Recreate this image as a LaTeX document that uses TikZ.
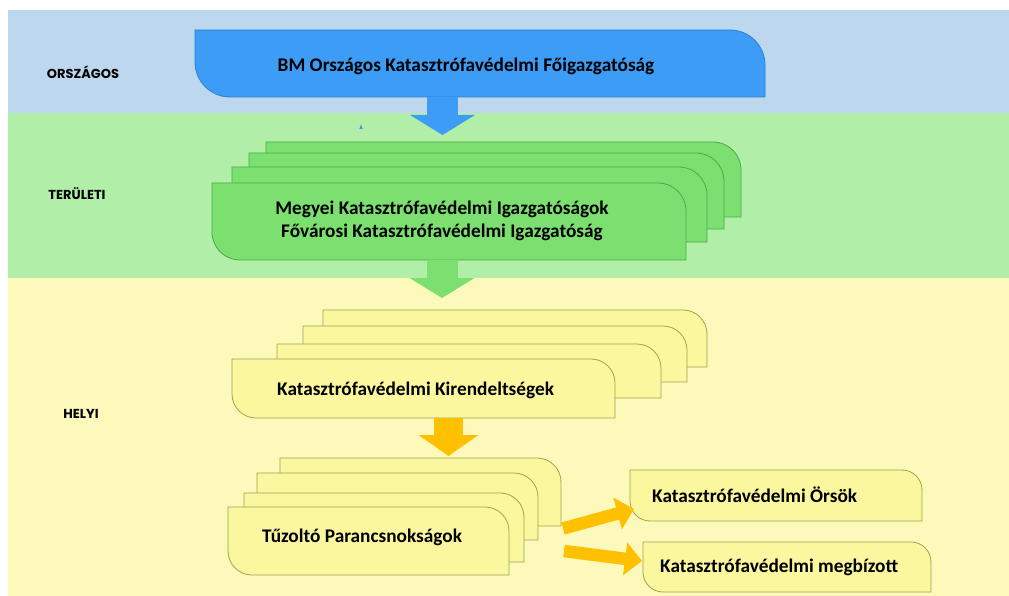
\documentclass[tikz,border=0pt]{standalone}
\usepackage{fontspec}
\setmainfont{Carlito}
\newfontfamily\lblfont{Poppins}
\usetikzlibrary{arrows.meta}
\definecolor{bandblue}{HTML}{BDD7EE}
\definecolor{bandgreen}{HTML}{B1EEA7}
\definecolor{bandyellow}{HTML}{FCF9BA}
\definecolor{boxblue}{HTML}{3C9CF6}
\definecolor{boxblueline}{HTML}{2F7FCF}
\definecolor{boxgreen}{HTML}{7BE070}
\definecolor{boxgreenline}{HTML}{4FA848}
\definecolor{boxyellow}{HTML}{FAF79F}
\definecolor{boxyellowline}{HTML}{9AA64E}
\definecolor{arrorange}{HTML}{FFC000}
% #1 style, (#2,#3) top-left, (#4,#5) bottom-right, #6 radius
\newcommand\tabshape[6]{%
  \path[#1] (#2,#3) -- (#4-#6,#3)
    .. controls (#4-0.4477*#6,#3) and (#4,#3+0.4477*#6) .. (#4,#3+#6)
    -- (#4,#5) -- (#2+#6,#5)
    .. controls (#2+0.4477*#6,#5) and (#2,#5-0.4477*#6) .. (#2,#5-#6)
    -- cycle;}
\tikzset{
  bluebox/.style={fill=boxblue,draw=boxblueline,line width=0.8pt},
  greenbox/.style={fill=boxgreen,draw=boxgreenline,line width=0.8pt},
  yellowbox/.style={fill=boxyellow,draw=boxyellowline,line width=0.8pt},
  boxtext/.style={font=\fontsize{19.3}{23}\selectfont\bfseries,text=black,inner sep=0pt},
  leveltext/.style={font=\lblfont\bfseries\fontsize{13}{15}\selectfont,text=black,inner sep=0pt},
  downarrow/.style={line width=31pt,-{Triangle[width=64pt,length=20pt]}},
  orangearrow/.style={arrorange,line width=12.5pt,-{Triangle[width=32pt,length=17pt]}}
}
\begin{document}
\begin{tikzpicture}[x=1pt,y=-1pt]
\useasboundingbox (0,0) rectangle (1009,596);
% bands
\fill[bandblue] (8,10) rectangle (1009,113);
\fill[bandgreen] (8,113) rectangle (1009,278);
\fill[bandyellow] (8,278) rectangle (1009,596);
% level labels
\node[leveltext] (orszlbl) at (83,72) {ORSZÁGOS};
\node[leveltext] (terlbl) at (77,194) {TERÜLETI};
\node[leveltext] (helyilbl) at (81,414) {HELYI};
% blue box
\tabshape{bluebox}{195}{30}{765}{97}{35}
\node[boxtext] (bm) at (466,66) {BM Országos Katasztrófavédelmi Főigazgatóság};
% green stack
\tabshape{greenbox}{266}{142}{741}{217}{28}
\tabshape{greenbox}{249}{153}{724}{229}{28}
\tabshape{greenbox}{232}{167}{707}{242}{28}
\tabshape{greenbox}{212}{183}{686}{260}{28}
\node[boxtext,align=center] (megyei) at (442,221) {Megyei Katasztrófavédelmi Igazgatóságok\\Fővárosi Katasztrófavédelmi Igazgatóság};
% yellow stack 1
\tabshape{yellowbox}{323}{310}{707}{367}{24}
\tabshape{yellowbox}{303}{326}{687}{382}{24}
\tabshape{yellowbox}{277}{344}{661}{398}{24}
\tabshape{yellowbox}{232}{359}{615}{418}{24}
\node[boxtext,anchor=west] (kir) at (277,390) {Katasztrófavédelmi Kirendeltségek};
% yellow stack 2
\tabshape{yellowbox}{280}{458}{561}{526}{24}
\tabshape{yellowbox}{257}{473}{538}{540}{24}
\tabshape{yellowbox}{244}{493}{524}{562}{24}
\tabshape{yellowbox}{228}{507}{509}{575}{24}
\node[boxtext,anchor=west] (tuz) at (262,537) {Tűzoltó Parancsnokságok};
% right boxes
\tabshape{yellowbox}{630}{470}{922}{521}{20}
\node[boxtext,anchor=west] (ors) at (652,495) {Katasztrófavédelmi Örsök};
\tabshape{yellowbox}{643}{542}{931}{592}{20}
\node[boxtext,anchor=west] (megb) at (660,567) {Katasztrófavédelmi megbízott};
% small mark
\fill[boxblue] (359.3,129) -- (362.7,129) -- (361,124.5) -- cycle;
% arrows
\coordinate (a1s) at (442.5,97);
\coordinate (a1e) at (442.5,135);
\coordinate (a2s) at (442,260);
\coordinate (a2e) at (442,298);
\coordinate (a3s) at (448.5,418);
\coordinate (a3e) at (448.5,456);
\coordinate (a4s) at (563,528.5);
\coordinate (a4e) at (634,509);
\coordinate (a5s) at (564,551);
\coordinate (a5e) at (642,561);
\draw[downarrow,boxblue] (a1s) -- (a1e);
\draw[downarrow,boxgreen] (a2s) -- (a2e);
\draw[arrorange,line width=29pt,-{Triangle[width=59pt,length=21pt]}] (a3s) -- (a3e);
\draw[orangearrow] (a4s) -- (a4e);
\draw[orangearrow] (a5s) -- (a5e);
\end{tikzpicture}
\end{document}
